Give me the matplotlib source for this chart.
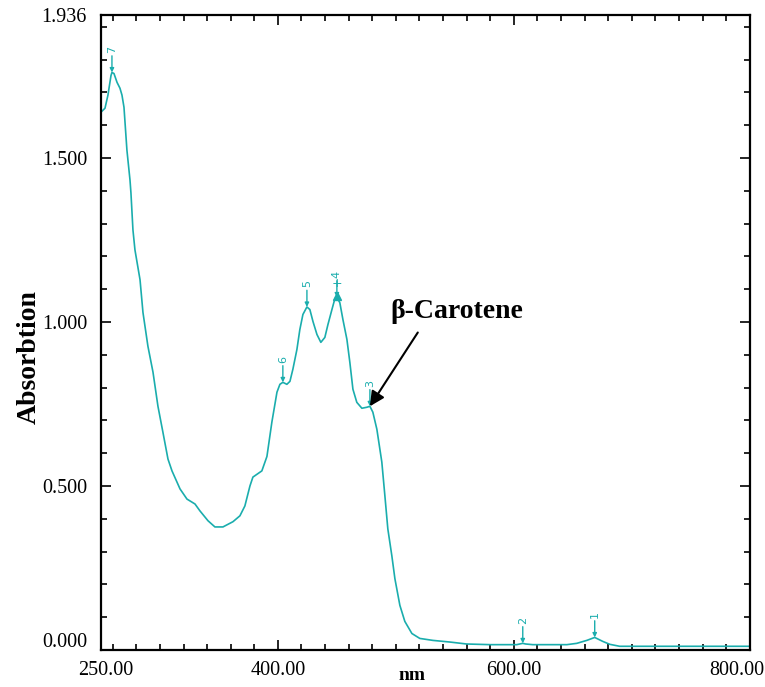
import matplotlib
matplotlib.use("Agg")
import matplotlib.pyplot as plt
import matplotlib.transforms as mtransforms
from matplotlib.ticker import MultipleLocator

# spectrum (nm, absorbance)
wavelength = [250.0, 253.4, 255.9, 258.5, 259.3, 261.0, 263.6, 266.1, 267.8, 269.5,
              272.0, 274.6, 275.4, 277.1, 278.8, 283.1, 285.6, 289.8, 294.1, 298.3,
              302.5, 306.8, 310.2, 317.0, 322.9, 329.7, 333.9, 340.7, 346.6, 353.4,
              361.9, 367.8, 372.0, 376.3, 378.8, 386.4, 390.7, 394.9, 399.2, 401.7,
              404.2, 407.6, 410.2, 412.7, 416.1, 418.6, 421.2, 424.6, 427.1, 429.7,
              433.1, 436.4, 439.8, 442.4, 445.8, 448.3, 450.0, 452.5, 455.1, 458.5,
              461.0, 463.6, 466.9, 471.2, 475.4, 478.0, 480.5, 483.9, 488.1, 490.7,
              493.2, 496.6, 499.2, 503.4, 507.6, 513.6, 520.3, 531.4, 545.8, 560.0,
              580.0, 602.5, 605.0, 607.6, 610.0, 616.1, 645.0, 653.4, 661.9, 668.6,
              675.4, 681.4, 689.8, 715.0, 800.0]
absorbance = [1.640, 1.652, 1.692, 1.752, 1.761, 1.758, 1.731, 1.713, 1.692, 1.655,
              1.524, 1.433, 1.394, 1.281, 1.220, 1.129, 1.029, 0.926, 0.847, 0.743,
              0.664, 0.582, 0.546, 0.491, 0.460, 0.445, 0.424, 0.394, 0.375, 0.375,
              0.391, 0.409, 0.439, 0.500, 0.527, 0.546, 0.590, 0.695, 0.786, 0.810,
              0.816, 0.810, 0.819, 0.856, 0.916, 0.977, 1.023, 1.046, 1.038, 1.002,
              0.962, 0.938, 0.953, 0.992, 1.038, 1.071, 1.075, 1.059, 1.008, 0.947,
              0.877, 0.795, 0.755, 0.737, 0.740, 0.743, 0.725, 0.673, 0.573, 0.470,
              0.369, 0.287, 0.217, 0.136, 0.087, 0.050, 0.035, 0.029, 0.024, 0.018,
              0.016, 0.016, 0.018, 0.020, 0.018, 0.016, 0.016, 0.020, 0.029, 0.038,
              0.026, 0.017, 0.011, 0.011, 0.011]

peak_labels = ["7", "6", "5", "4", "3", "2", "1"]
peak_nm = [259.3, 404.2, 424.6, 450.0, 478.0, 607.6, 668.6]
peak_abs = [1.761, 0.816, 1.046, 1.075, 0.743, 0.020, 0.038]

x_ticks = [250, 400, 600, 800]
x_tick_labels = ["250.00", "400.00", "600.00", "800.00"]
y_ticks = [0.0, 0.5, 1.0, 1.5, 1.936]
y_tick_labels = ["0.000", "0.500", "1.000", "1.500", "1.936"]

teal = "#1aadad"
serif = "Liberation Serif"

fig = plt.figure(figsize=(7.65, 6.87), dpi=100)
ax = fig.add_axes([0.132, 0.054, 0.848, 0.924])

ax.plot(wavelength, absorbance, color=teal, lw=1.2)

for lab, px, py in zip(peak_labels, peak_nm, peak_abs):
    ax.annotate("", xy=(px, py), xytext=(0, 12), textcoords="offset points",
                arrowprops=dict(arrowstyle="-|>", color=teal, lw=1.0,
                                mutation_scale=6, shrinkA=0, shrinkB=0))
    ax.annotate(lab, xy=(px, py), xytext=(0, 14), textcoords="offset points",
                rotation=90, ha="center", va="bottom", fontsize=8, color=teal)
# the extra marks on peak 4
ax.plot([450.0], [1.080], marker="^", color=teal, ms=6, ls="none")
ax.annotate("+", xy=(450.0, 1.075), xytext=(0, 10), textcoords="offset points",
            ha="center", va="center", fontsize=9, color=teal)

# beta-carotene label and arrow
ax.annotate("", xy=(478.0, 0.743), xytext=(518.6, 0.968),
            arrowprops=dict(arrowstyle="-|>", color="black", lw=1.5,
                            mutation_scale=22, shrinkA=0, shrinkB=0))
ax.text(552, 1.032, "β-Carotene", ha="center", va="center",
        fontsize=20, fontweight="bold", family=serif)

ax.set_xlim(250, 800)
ax.set_ylim(0, 1.936)
ax.set_xticks(x_ticks)
ax.set_xticklabels(x_tick_labels)
ax.set_yticks(y_ticks)
ax.set_yticklabels(y_tick_labels)
ax.xaxis.set_minor_locator(MultipleLocator(20))
ax.yaxis.set_minor_locator(MultipleLocator(0.1))
ax.tick_params(which="both", direction="in", top=True, right=True, width=1.2)
ax.tick_params(which="major", length=7, labelsize=14.5)
ax.tick_params(axis="x", which="major", pad=8)
ax.tick_params(axis="y", which="major", pad=10)
ax.tick_params(which="minor", length=4)
for lbl in ax.get_xticklabels() + ax.get_yticklabels():
    lbl.set_family(serif)
# the end labels sit a bit inward in the reference
xl = ax.get_xticklabels()
xl[0].set_transform(xl[0].get_transform() + mtransforms.ScaledTranslation(0.05, 0, fig.dpi_scale_trans))
xl[-1].set_transform(xl[-1].get_transform() + mtransforms.ScaledTranslation(-0.13, 0, fig.dpi_scale_trans))
yl = ax.get_yticklabels()
yl[0].set_transform(yl[0].get_transform() + mtransforms.ScaledTranslation(0, 0.1, fig.dpi_scale_trans))
for sp in ax.spines.values():
    sp.set_linewidth(1.6)

fig.text(412 / 765, 1 - 675 / 687, "nm", ha="center", va="center",
         fontsize=14, fontweight="bold", family=serif)
ax.set_ylabel("Absorbtion", fontsize=20, fontweight="bold", family=serif)
ax.yaxis.set_label_coords(-0.092, 0.461)

fig.savefig("out.png", dpi=100)
